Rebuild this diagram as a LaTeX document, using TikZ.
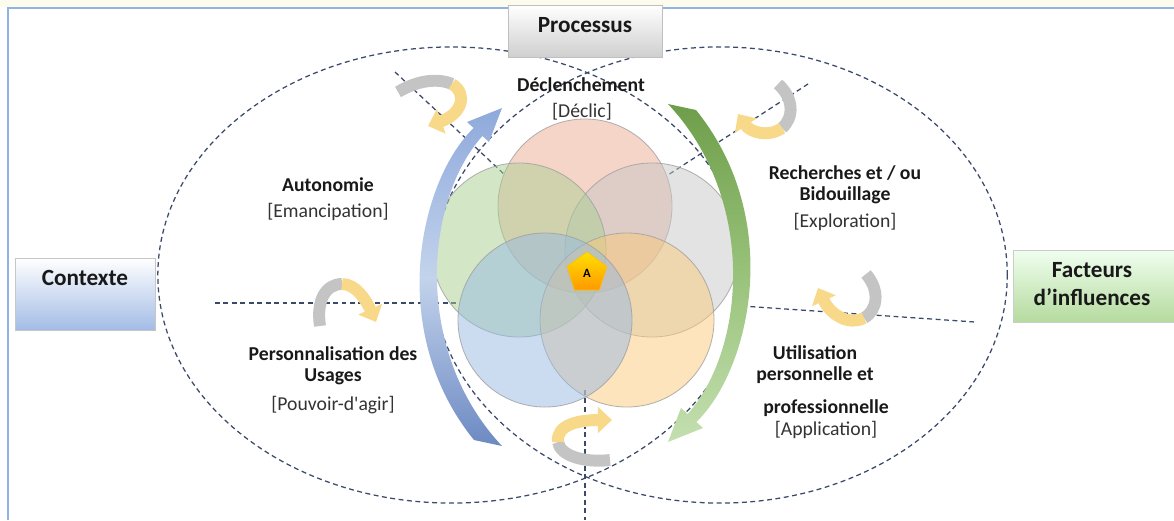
\documentclass[tikz,border=0pt]{standalone}
\usepackage{fontspec}
\setmainfont{Carlito}
\usetikzlibrary{arrows.meta,shapes.geometric,shadows}

\definecolor{frameblue}{HTML}{8DB4E2}
\definecolor{cream}{HTML}{FDFBEE}
\definecolor{guidecol}{HTML}{3B4A6B}
\definecolor{petaledge}{HTML}{A0A0A0}
\definecolor{petalred}{HTML}{EDAB93}
\definecolor{petalgreen}{HTML}{A8CF90}
\definecolor{petalgray}{HTML}{C7C7C7}
\definecolor{petalblue}{HTML}{97B9E3}
\definecolor{petalorange}{HTML}{FBC97B}
\definecolor{ribbongray}{HTML}{C4C4C4}
\definecolor{ribbonyellow}{HTML}{F8D98A}
\definecolor{ctxblue}{HTML}{A3BCE6}
\definecolor{factgreen}{HTML}{B5DA9E}
\definecolor{procgray}{HTML}{CFCFCF}
\definecolor{bluetop}{HTML}{8EA9DB}
\definecolor{bluemid}{HTML}{C3D3EC}
\definecolor{bluebot}{HTML}{6C89C2}
\definecolor{greentop}{HTML}{6E9E4A}
\definecolor{greenmid}{HTML}{98C27A}
\definecolor{greenbot}{HTML}{C4DFB0}

\begin{document}
\begin{tikzpicture}[x=0.025cm, y=-0.025cm,
    guide/.style={draw=guidecol, line width=0.9pt, dash pattern=on 3.5pt off 2.5pt},
    petal/.style={circle, minimum size=4.35cm, inner sep=0pt, draw=petaledge,
        line width=0.6pt, fill opacity=0.5, draw opacity=0.8},
    panel/.style={line width=0.5pt,
        drop shadow={opacity=0.25, shadow xshift=0.6pt, shadow yshift=-0.8pt}},
    boxlabel/.style={font=\bfseries\fontsize{16.5}{20}\selectfont, align=center, text=black!90},
    stagetitle/.style={font=\bfseries\fontsize{14}{15}\selectfont, align=center, text=black!90},
    stagenote/.style={font=\fontsize{14}{15}\selectfont, text=black!80},
    ribbonback/.style={line width=8.5pt, draw=ribbongray},
    ribbonfront/.style={line width=8.5pt, draw=ribbonyellow, -{Triangle[length=10pt,width=18pt]}}]

    \useasboundingbox (0,0) rectangle (1174,520);
    \fill[cream] (0,0) rectangle (1174,7);
    \draw[frameblue, line width=1.2pt] (8,520) -- (8,8) -- (1174,8);

    % the two dashed ellipses and the axes
    \draw[guide] (451.5,275) ellipse [x radius=7.34cm, y radius=5.7cm];
    \draw[guide] (720,275) ellipse [x radius=7.18cm, y radius=5.7cm];
    \draw[guide] (395,72) -- (505,175);
    \draw[guide] (808,84) -- (668,175);
    \draw[guide] (215,303) -- (458,303);
    \draw[guide] (742,306) -- (975,322);
    \draw[guide] (585,390) -- (585,520);

    % petals
    \node[petal, fill=petalred] (red) at (585,206) {};
    \node[petal, fill=petalgray] (grey) at (652,250) {};
    \node[petal, fill=petalgreen] (green) at (519,250) {};
    \node[petal, fill=petalorange] (orange) at (627,320) {};
    \node[petal, fill=petalblue] (blue) at (545,320) {};
    \node[regular polygon, regular polygon sides=5, minimum size=1.05cm, inner sep=0pt,
        top color=yellow!75!orange, bottom color=orange!80!yellow, draw=yellow!55!orange,
        font=\bfseries\fontsize{9}{9}\selectfont] (core) at (587,273) {A};

    % large curved arrows
    \path[top color=bluetop, bottom color=bluebot, middle color=bluemid]
        (473.6,128) .. controls (420,180) and (385,330) .. (474,440)
        -- (502,446) .. controls (412,350) and (425,200) .. (482.4,136)
        -- (489,142) -- (502,108) -- (467,122) -- cycle;
    \path[top color=greentop, bottom color=greenbot, middle color=greenmid]
        (696.4,422) .. controls (750,370) and (785,220) .. (696,110)
        -- (668,104) .. controls (758,200) and (745,350) .. (687.6,414)
        -- (681,408) -- (668,442) -- (703,428) -- cycle;

    % small ribbons
    \draw[ribbonback] (398,92) .. controls (418,80) and (438,78) .. (452,84);
    \draw[ribbonfront] (452,84) .. controls (468,94) and (462,114) .. (428,126);
    \draw[ribbonback] (778,84) .. controls (794,98) and (794,118) .. (782,128);
    \draw[ribbonfront] (782,128) .. controls (768,138) and (750,132) .. (738,114);
    \draw[ribbonback] (320,326) .. controls (316,300) and (326,284) .. (342,284);
    \draw[ribbonfront] (342,284) .. controls (356,284) and (366,300) .. (376,322);
    \draw[ribbonback] (866,274) .. controls (880,290) and (878,310) .. (864,318);
    \draw[ribbonfront] (864,318) .. controls (848,326) and (830,314) .. (818,288);
    \draw[ribbonback] (610,460) .. controls (585,463) and (560,456) .. (558,442);
    \draw[ribbonfront] (558,442) .. controls (556,425) and (578,420) .. (612,420);

    % stage labels
    \node[stagetitle] (decl) at (581,85) {Déclenchement};
    \node[stagenote] (declnote) at (582,112) {[Déclic]};
    \node[stagetitle] (auto) at (328,185) {Autonomie};
    \node[stagenote] (autonote) at (328,212) {[Emancipation]};
    \node[stagetitle] (rech) at (845,185) {Recherches et / ou\\Bidouillage};
    \node[stagenote] (rechnote) at (845,222) {[Exploration]};
    \node[stagetitle] (pers) at (333,366) {Personnalisation des\\Usages};
    \node[stagenote] (persnote) at (333,405) {[Pouvoir-d\textquotesingle agir]};
    \node[stagetitle] (util) at (815,365) {Utilisation\\personnelle et};
    \node[stagetitle] (utilpro) at (826,408) {professionnelle};
    \node[stagenote] (utilnote) at (826,430) {[Application]};

    % side panels
    \path[panel, draw=gray!50, top color=white, bottom color=procgray] (508,5) rectangle (662,57);
    \path[panel, draw=gray!45, top color=white, bottom color=ctxblue] (15,258) rectangle (155,330);
    \path[panel, draw=gray!40, top color=green!6!white, bottom color=factgreen] (1013,250) rectangle (1174,322);
    \node[boxlabel] (proc) at (585,25) {Processus};
    \node[boxlabel] (ctx) at (85,278) {Contexte};
    \node[boxlabel] (fact) at (1092,284) {Facteurs\\d’influences};
\end{tikzpicture}
\end{document}
